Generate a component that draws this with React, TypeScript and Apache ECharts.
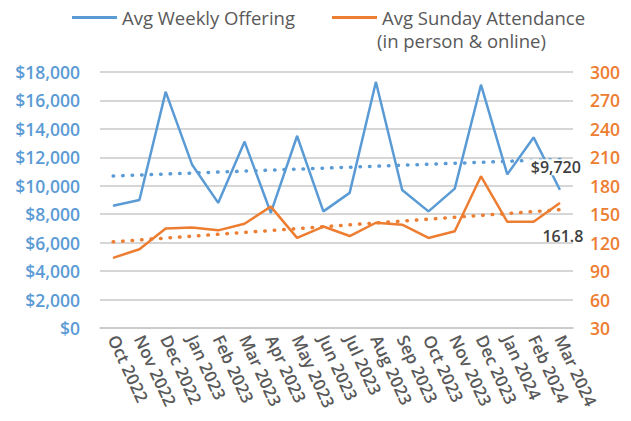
import React, { useEffect, useRef } from "react";
import * as echarts from "echarts";

const months = [
  "Oct 2022", "Nov 2022", "Dec 2022", "Jan 2023", "Feb 2023", "Mar 2023",
  "Apr 2023", "May 2023", "Jun 2023", "Jul 2023", "Aug 2023", "Sep 2023",
  "Oct 2023", "Nov 2023", "Dec 2023", "Jan 2024", "Feb 2024", "Mar 2024",
];
const offering = [
  8600, 9000, 16600, 11500, 8800, 13100, 8100, 13500, 8200, 9500, 17300, 9700,
  8200, 9800, 17100, 10800, 13400, 9720,
];
const attendance = [
  104, 113, 135, 136, 133, 140, 158, 125, 137, 127, 141, 139, 125, 132, 190,
  142, 142, 161.8,
];
const offeringName = "Avg Weekly Offering";
const attendanceName = "Avg Sunday Attendance (in person & online)";

const BLUE = "#5B9BD5";
const ORANGE = "#ED7D31";
const FONT = "Open Sans";

function linearTrend(vals: number[]): number[] {
  const n = vals.length;
  let sx = 0, sy = 0, sxy = 0, sxx = 0;
  vals.forEach((v, i) => { sx += i; sy += v; sxy += i * v; sxx += i * i; });
  const slope = (n * sxy - sx * sy) / (n * sxx - sx * sx);
  const icpt = (sy - slope * sx) / n;
  return vals.map((_, i) => icpt + slope * i);
}

export default function App() {
  const ref = useRef<HTMLDivElement>(null);
  useEffect(() => {
    if (!ref.current) return;
    const chart = echarts.init(ref.current, null, { renderer: "svg" });
    const lastIdx = offering.length - 1;
    const offData = offering.map((v, i) =>
      i === lastIdx
        ? {
            value: v,
            label: {
              show: true,
              position: "top",
              distance: 14,
              offset: [-4, 0],
              formatter: (p: any) => "$" + Number(p.value).toLocaleString("en-US"),
              color: "#404040",
              fontSize: 16,
              fontWeight: 600,
              fontFamily: FONT,
              backgroundColor: "#ffffff",
              padding: [0, 2],
            },
          }
        : v
    );
    const attData = attendance.map((v, i) =>
      i === lastIdx
        ? {
            value: v,
            label: {
              show: true,
              position: "bottom",
              distance: 24,
              offset: [3, 0],
              formatter: (p: any) => String(p.value),
              color: "#404040",
              fontSize: 16,
              fontWeight: 600,
              fontFamily: FONT,
            },
          }
        : v
    );
    chart.setOption({
      animation: false,
      backgroundColor: "#ffffff",
      textStyle: { fontFamily: FONT },
      grid: { left: 100, right: 58, top: 72, bottom: 93 },
      legend: [
        {
          data: [offeringName],
          left: 67,
          top: 3,
          icon: "rect",
          itemWidth: 45,
          itemHeight: 3,
          textStyle: { color: "#595959", fontSize: 18.5, fontFamily: FONT },
        },
        {
          data: [attendanceName],
          left: 327,
          top: 3,
          icon: "rect",
          itemWidth: 45,
          itemHeight: 3,
          formatter: () => "Avg Sunday Attendance",
          textStyle: { color: "#595959", fontSize: 18.5, fontFamily: FONT },
        },
      ],
      graphic: [
        {
          type: "text",
          left: 377,
          top: 31,
          style: {
            text: "(in person & online)",
            fill: "#595959",
            fontSize: 18.5,
            fontFamily: FONT,
          },
        },
      ],
      xAxis: {
        type: "category",
        data: months,
        boundaryGap: true,
        axisLine: { lineStyle: { color: "#c8c8c8", width: 1.5 } },
        axisTick: { show: false },
        axisLabel: {
          rotate: -65,
          margin: 8,
          color: "#595959",
          fontSize: 17,
          fontWeight: 600,
          fontFamily: FONT,
          interval: 0,
        },
      },
      yAxis: [
        {
          type: "value",
          min: 0,
          max: 18000,
          interval: 2000,
          axisLine: { show: false },
          axisTick: { show: false },
          splitLine: { lineStyle: { color: "#c8c8c8", width: 1.5 } },
          axisLabel: {
            margin: 20,
            color: BLUE,
            fontSize: 17.5,
            fontWeight: 600,
            fontFamily: FONT,
            formatter: (v: number) => "$" + v.toLocaleString("en-US"),
          },
        },
        {
          type: "value",
          min: 30,
          max: 300,
          interval: 30,
          axisLine: { show: false },
          axisTick: { show: false },
          splitLine: { show: false },
          axisLabel: {
            margin: 17,
            color: ORANGE,
            fontSize: 17.5,
            fontWeight: 600,
            fontFamily: FONT,
          },
        },
      ],
      series: [
        {
          name: offeringName,
          type: "line",
          yAxisIndex: 0,
          data: offData,
          symbol: "circle",
          symbolSize: 1,
          showSymbol: true,
          itemStyle: { color: BLUE },
          lineStyle: { color: BLUE, width: 2.5 },
          z: 3,
        },
        {
          name: attendanceName,
          type: "line",
          yAxisIndex: 1,
          data: attData,
          symbol: "circle",
          symbolSize: 1,
          showSymbol: true,
          itemStyle: { color: ORANGE },
          lineStyle: { color: ORANGE, width: 2.5 },
          z: 3,
        },
        {
          name: "Offering trend",
          type: "line",
          yAxisIndex: 0,
          data: linearTrend(offering),
          symbol: "none",
          lineStyle: { color: BLUE, width: 3.5, type: [0.5, 9], cap: "round" },
          z: 2,
          silent: true,
        },
        {
          name: "Attendance trend",
          type: "line",
          yAxisIndex: 1,
          data: linearTrend(attendance),
          symbol: "none",
          lineStyle: { color: ORANGE, width: 3.5, type: [0.5, 9], cap: "round" },
          z: 2,
          silent: true,
        },
      ],
    });
    return () => chart.dispose();
  }, []);
  return (
    <div
      ref={ref}
      style={{ position: "fixed", left: 0, top: 0, width: 631, height: 421 }}
    />
  );
}
